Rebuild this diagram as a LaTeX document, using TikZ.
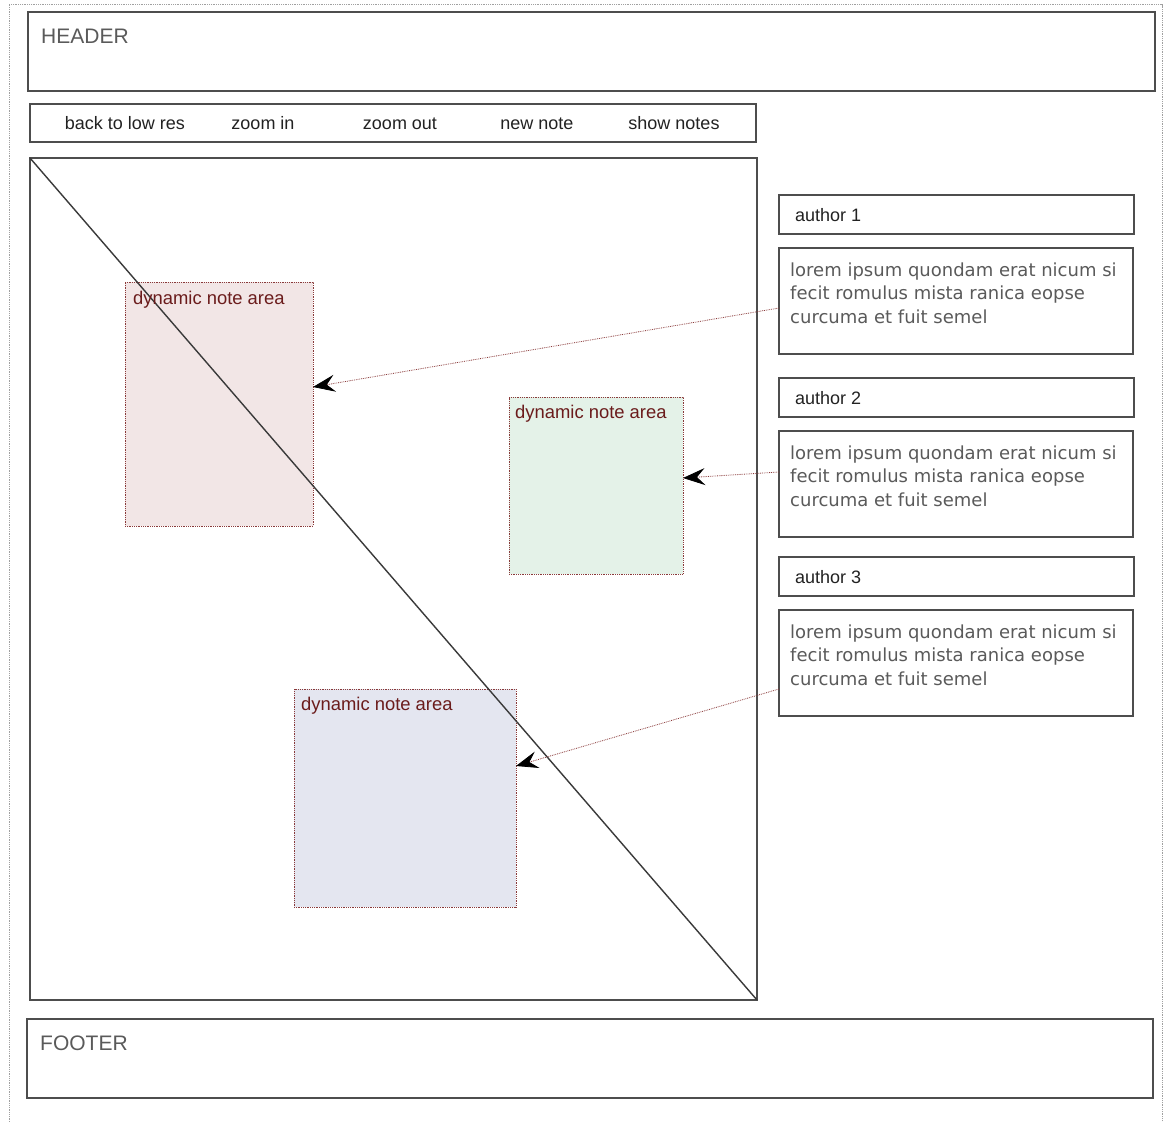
\documentclass[tikz,border=0pt]{standalone}
\usepackage{fontspec}
\setmainfont{Liberation Sans}
\newfontfamily\bodyfont{DejaVu Sans}
\usetikzlibrary{arrows.meta}

\definecolor{frame}{HTML}{4D4D4D}
\definecolor{diagink}{HTML}{3A3A3A}
\definecolor{softink}{HTML}{5A5A5A}
\definecolor{darkink}{HTML}{222222}
\definecolor{noteink}{HTML}{6B1C1C}
\definecolor{noteedge}{HTML}{8A3A3A}
\definecolor{notepink}{RGB}{242,230,230}
\definecolor{notegreen}{RGB}{228,242,232}
\definecolor{noteblue}{RGB}{228,230,240}
\definecolor{pageedge}{HTML}{A0A0A0}

\tikzset{
  panel/.style={draw=frame, line width=1.5pt, fill=white, inner sep=0pt,
    outer sep=0pt, anchor=north west},
  notearea/.style={draw=noteedge, densely dotted, line width=0.8pt, inner sep=0pt,
    outer sep=0pt, anchor=north west},
  bigcaption/.style={text=softink, anchor=base west, inner sep=0pt,
    font=\fontsize{21}{25}\selectfont},
  toolcaption/.style={text=darkink, anchor=base, inner sep=0pt,
    font=\fontsize{18}{22}\selectfont},
  authorcaption/.style={text=darkink, anchor=base west, inner sep=0pt,
    font=\fontsize{18}{22}\selectfont},
  notecaption/.style={text=noteink, anchor=base west, inner sep=0pt,
    font=\fontsize{18.4}{22}\selectfont},
  commenttext/.style={text=softink, anchor=base west, inner sep=0pt,
    font=\bodyfont\fontsize{18}{23.5}\selectfont},
  pointer/.style={draw=noteedge, densely dotted, line width=0.8pt,
    -{Stealth[length=22pt, width=17pt, inset=8pt, fill=black, color=black]}},
}

\begin{document}
\begin{tikzpicture}[x=1pt, y=-1pt]
  \useasboundingbox[fill=white] (0,0) rectangle (1165,1122);

  % faint page outline
  \draw[pageedge, densely dotted, line width=0.8pt]
    (9,1122) -- (9,4.5) -- (1162,4.5) -- (1162,1122);

  % header
  \node[panel, minimum width=1127pt, minimum height=79pt] (header) at (28,12) {};
  \node[bigcaption] (headerlabel) at (41,43) {HEADER};

  % toolbar
  \node[panel, minimum width=726pt, minimum height=38pt] (toolbar) at (30,104) {};
  \node[toolcaption] (btnlow)  at (125,129) {back to low res};
  \node[toolcaption] (btnin)   at (263,129) {zoom in};
  \node[toolcaption] (btnout)  at (400,129) {zoom out};
  \node[toolcaption] (btnnew)  at (537,129) {new note};
  \node[toolcaption] (btnshow) at (674,129) {show notes};

  % image viewer
  \node[panel, minimum width=727pt, minimum height=842pt] (viewer) at (30,158) {};

  % note areas
  \node[notearea, fill=notepink, minimum width=188pt, minimum height=244pt] (note1) at (125,282) {};
  \node[notearea, fill=notegreen, minimum width=174pt, minimum height=177pt] (note2) at (509,397) {};
  \node[notearea, fill=noteblue, minimum width=222pt, minimum height=218pt] (note3) at (294,689) {};
  \draw[diagink, line width=1.4pt] (viewer.north west) -- (viewer.south east);
  \node[notecaption] (note1label) at (133,304) {dynamic note area};
  \node[notecaption] (note2label) at (515,418) {dynamic note area};
  \node[notecaption] (note3label) at (301,710) {dynamic note area};

  % authors and comments
  \node[panel, minimum width=355pt, minimum height=39pt] (author1) at (779,195) {};
  \node[panel, minimum width=354pt, minimum height=106pt] (comment1) at (779,248) {};
  \node[panel, minimum width=355pt, minimum height=39pt] (author2) at (779,378) {};
  \node[panel, minimum width=354pt, minimum height=106pt] (comment2) at (779,431) {};
  \node[panel, minimum width=355pt, minimum height=39pt] (author3) at (779,557) {};
  \node[panel, minimum width=354pt, minimum height=106pt] (comment3) at (779,610) {};

  \node[authorcaption] (author1label) at (795,221) {author 1};
  \node[authorcaption] (author2label) at (795,404) {author 2};
  \node[authorcaption] (author3label) at (795,583) {author 3};

  \foreach \c/\y in {1/276, 2/459, 3/638} {
    \node[commenttext] (comment\c line1) at (790,\y) {lorem ipsum quondam erat nicum si};
    \node[commenttext] (comment\c line2) at (790,\y+23.5) {fecit romulus mista ranica eopse};
    \node[commenttext] (comment\c line3) at (790,\y+47) {curcuma et fuit semel};
  }

  % pointers from comments to their note areas
  \draw[pointer] ([yshift=-60pt]comment1.north west) -- ([yshift=-105pt]note1.north east);
  \draw[pointer] ([yshift=-41pt]comment2.north west) -- ([yshift=-81pt]note2.north east);
  \draw[pointer] ([yshift=-79pt]comment3.north west) -- ([yshift=-77pt]note3.north east);

  % footer
  \node[panel, minimum width=1126pt, minimum height=79pt] (footer) at (27,1019) {};
  \node[bigcaption] (footerlabel) at (40,1050) {FOOTER};
\end{tikzpicture}
\end{document}
